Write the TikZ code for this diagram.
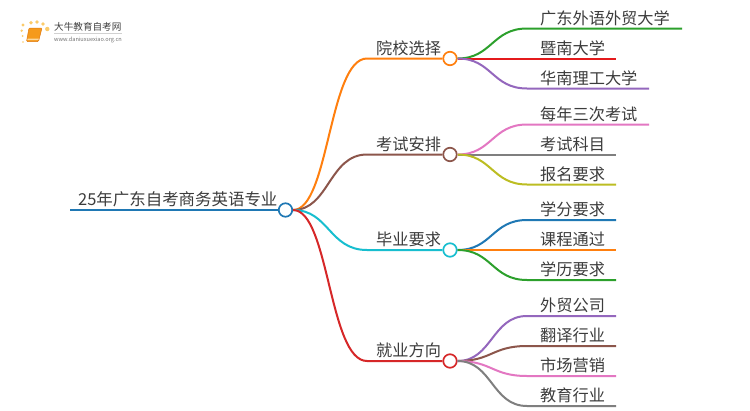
\documentclass[tikz,border=0pt]{standalone}
\usepackage{fontspec}
\setmainfont{Noto Sans CJK SC}
\usetikzlibrary{calc}
\definecolor{cBlue}{HTML}{1F78B4}
\definecolor{cOrange}{HTML}{FF7F0E}
\definecolor{cGreen}{HTML}{2CA02C}
\definecolor{cRed}{HTML}{E41A1C}
\definecolor{cPurple}{HTML}{9467BD}
\definecolor{cBrown}{HTML}{8C564B}
\definecolor{cPink}{HTML}{E377C2}
\definecolor{cGray}{HTML}{7F7F7F}
\definecolor{cOlive}{HTML}{BCBD22}
\definecolor{cCyan}{HTML}{17BECF}
\definecolor{cRedB}{HTML}{D62728}
\definecolor{txt}{HTML}{3C3C3C}
\definecolor{logoDot}{HTML}{FBCB6A}
\definecolor{logoBook}{HTML}{F59A1B}
\definecolor{logoEdge}{HTML}{E0780F}
\definecolor{logoPage}{HTML}{FBD9A0}
\tikzset{
  x=1pt,y=-1pt,
  hub/.style={circle,draw=#1,fill=white,line width=1.7pt,minimum size=13.5pt,inner sep=0pt},
  edge/.style={draw=#1,line width=2pt},
  rootedge/.style={draw=#1,line width=2.6pt},
  lab/.style={anchor=base west,inner sep=0pt,text=txt,font=\fontsize{16.2}{16.2}\selectfont},
  rootlab/.style={anchor=base west,inner sep=0pt,text=txt,font=\fontsize{16.45}{16.45}\selectfont},
}
\begin{document}
\begin{tikzpicture}
\useasboundingbox (0,0) rectangle (750,410);
\fill[white] (0,0) rectangle (750,410);
% logo
\foreach \px/\py/\pr in {23/25/1.6,31/22.7/1.9,37/22/1.9,43/24/1.9,47.3/29/2.2,21.7/30.7/1.3,22.7/36/1.0,23/42/0.8}
  \fill[logoDot] (\px,\py) circle (\pr);
\fill[logoBook,rounded corners=1pt] (29,28) -- (42,28) -- (38.5,41.5) -- (26.5,41.5) -- cycle;
\fill[logoPage] (27.5,38.6) -- (39,38.6) -- (38.5,40.2) -- (27.2,40.2) -- cycle;
\draw[logoEdge,line width=.5pt,rounded corners=1pt] (29,28) -- (42,28) -- (38.5,41.5) -- (26.5,41.5) -- cycle;
\node[anchor=base west,inner sep=0pt,text=black!75,font=\fontsize{9.6}{10}\selectfont] (logoa) at (54,30) {大牛教育自考网};
\node[anchor=base west,inner sep=0pt,text=black!55,font=\fontsize{5.6}{6}\selectfont] (logob) at (54,41) {www.daniuxuexiao.org.cn};
\fill[black!18] (54,33) rectangle (122,33.6);
% hubs
\node[hub=cBlue] (root) at (285.5,210) {};
\node[hub=cOrange] (b1) at (450,58.5) {};
\node[hub=cBrown] (b2) at (450,154.5) {};
\node[hub=cCyan] (b3) at (450,250) {};
\node[hub=cRedB] (b4) at (450,361) {};
% ends
\coordinate (r0) at (70,210);
\coordinate (e1) at (367,58.5);
\coordinate (e2) at (367,154.5);
\coordinate (e3) at (367,250);
\coordinate (e4) at (367,361);
\coordinate (a1) at (682,28.5);
\coordinate (a2) at (616,58.5);
\coordinate (a3) at (649,88.5);
\coordinate (a4) at (649,124.5);
\coordinate (a5) at (616,154.5);
\coordinate (a6) at (616,184.5);
\coordinate (a7) at (616,220);
\coordinate (a8) at (616,250);
\coordinate (a9) at (616,280);
\coordinate (a10) at (616,316);
\coordinate (a11) at (616,346);
\coordinate (a12) at (616,376);
\coordinate (a13) at (616,406);
% root stem
\draw[rootedge=cBlue] (r0) -- (root.west);
% root to branches
\foreach \b/\e/\c in {b1/e1/cOrange,b2/e2/cBrown,b3/e3/cCyan,b4/e4/cRedB}{
  \path[edge=\c] (root.east) .. controls (329,210) and (329,0|-\e) .. (\e) -- (\b.west);
}
% leaves
\foreach \b/\e/\c in {b1/a1/cGreen,b1/a2/cRed,b1/a3/cPurple,b2/a4/cPink,b2/a5/cGray,b2/a6/cOlive,b3/a7/cBlue,b3/a8/cOrange,b3/a9/cGreen,b4/a10/cPurple,b4/a11/cBrown,b4/a12/cPink,b4/a13/cGray}{
  \path[edge=\c] (\b.east) .. controls (492,0|-\b.east) and (492,0|-\e) .. (527,0|-\e) -- (\e);
}
% labels
\node[rootlab] (t0) at (78,205) {25年广东自考商务英语专业};
\node[lab] (t1) at (376,54) {院校选择};
\node[lab] (t2) at (376,150) {考试安排};
\node[lab] (t3) at (376,245.5) {毕业要求};
\node[lab] (t4) at (376,356.5) {就业方向};
\node[lab] (l1) at (540,24) {广东外语外贸大学};
\node[lab] (l2) at (540,54) {暨南大学};
\node[lab] (l3) at (540,84) {华南理工大学};
\node[lab] (l4) at (540,120) {每年三次考试};
\node[lab] (l5) at (540,150) {考试科目};
\node[lab] (l6) at (540,180) {报名要求};
\node[lab] (l7) at (540,215.5) {学分要求};
\node[lab] (l8) at (540,245.5) {课程通过};
\node[lab] (l9) at (540,275.5) {学历要求};
\node[lab] (l10) at (540,311.5) {外贸公司};
\node[lab] (l11) at (540,341.5) {翻译行业};
\node[lab] (l12) at (540,371.5) {市场营销};
\node[lab] (l13) at (540,401.5) {教育行业};
\end{tikzpicture}
\end{document}
